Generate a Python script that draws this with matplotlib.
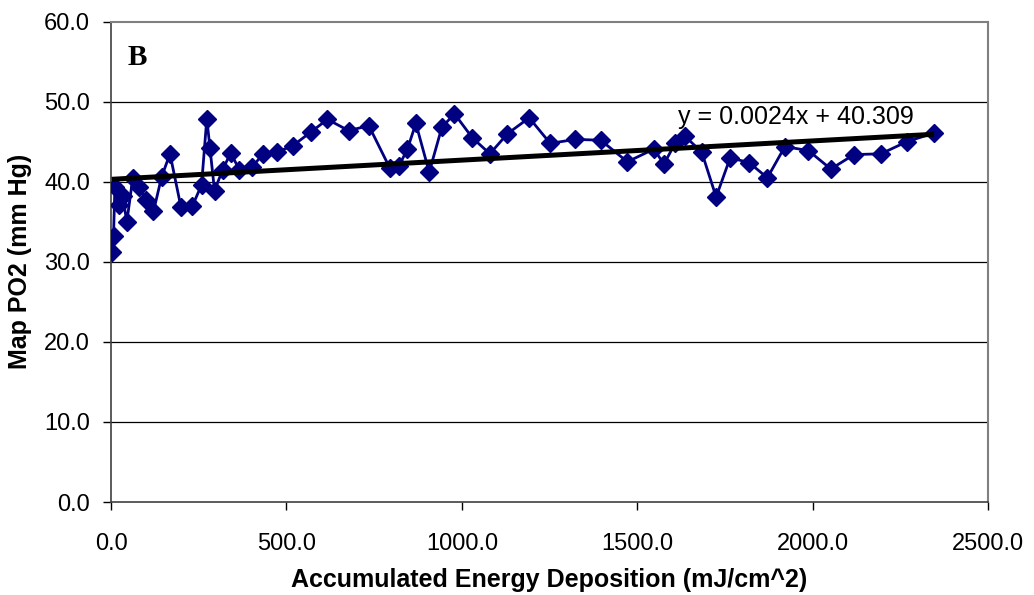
import matplotlib
matplotlib.use("Agg")
import matplotlib.pyplot as plt
import numpy as np

# accumulated energy deposition (mJ/cm^2) and mean PO2 (mm Hg)
energy = [2, 7, 11, 24, 33, 45, 62, 81, 99, 121, 144, 168, 199, 232, 258, 273,
          282, 295, 318, 341, 366, 401, 434, 472, 518, 569, 617, 677, 735, 795,
          821, 845, 869, 907, 943, 979, 1030, 1080, 1130, 1192, 1252, 1323, 1396,
          1472, 1548, 1576, 1608, 1636, 1684, 1725, 1765, 1819, 1871, 1921, 1988,
          2052, 2118, 2195, 2268, 2346]
po2 = [31.2, 33.2, 39.4, 37.1, 38.2, 35.0, 40.5, 39.3, 37.7, 36.3, 40.6, 43.5,
       36.9, 37.0, 39.6, 47.9, 44.2, 38.9, 41.5, 43.6, 41.5, 41.8, 43.5, 43.7,
       44.5, 46.2, 47.8, 46.4, 47.0, 41.7, 42.0, 44.1, 47.3, 41.2, 46.8, 48.5,
       45.5, 43.5, 46.0, 48.0, 44.8, 45.3, 45.2, 42.5, 44.1, 42.2, 44.8, 45.7,
       43.7, 38.1, 43.0, 42.4, 40.5, 44.4, 43.9, 41.6, 43.4, 43.5, 45.0, 46.1]

# linear trend reported on the chart
slope, intercept = 0.0024, 40.309

x_ticks = [0, 500, 1000, 1500, 2000, 2500]
y_ticks = [0, 10, 20, 30, 40, 50, 60]

plt.rcParams['font.family'] = ['Liberation Sans', 'DejaVu Sans']

fig = plt.figure(figsize=(10.34, 5.95), dpi=100)
ax = fig.add_axes([0.1074, 0.1563, 0.8481, 0.8072])

for yv in y_ticks[1:-1]:
    ax.axhline(yv, color="black", lw=0.9, zorder=1)

ax.plot(energy, po2, color="#000080", lw=2.0, marker="D", markersize=9.5,
        markerfacecolor="#000080", markeredgecolor="#000080", zorder=3)

xt = np.array([min(energy), max(energy)])
ax.plot(xt, slope * xt + intercept, color="black", lw=3.6, zorder=4,
        solid_capstyle="butt")

ax.set_xlim(0, 2500)
ax.set_ylim(0, 60)
ax.set_xticks(x_ticks)
ax.set_yticks(y_ticks)
ax.set_xticklabels([f"{v:.1f}" for v in x_ticks], fontsize=17)
ax.set_yticklabels([f"{v:.1f}" for v in y_ticks], fontsize=17)
ax.tick_params(axis="both", direction="out", length=6, width=1, color="black")
ax.tick_params(axis="y", pad=9)
ax.tick_params(axis="x", pad=16)

for side in ["top", "right"]:
    ax.spines[side].set_color("#808080")
    ax.spines[side].set_linewidth(1.5)
for side in ["left", "bottom"]:
    ax.spines[side].set_color("#404040")
    ax.spines[side].set_linewidth(1.2)

ax.set_xlabel("Accumulated Energy Deposition (mJ/cm^2)", fontsize=18,
              fontweight="bold", labelpad=10)
ax.set_ylabel("Map PO2 (mm Hg)", fontsize=18, fontweight="bold", labelpad=9)

ax.text(0.019, 0.925, "B", transform=ax.transAxes, fontsize=21,
        fontweight="bold", family="Liberation Serif", va="center", ha="left")
ax.text(1616, 48.1, f"y = {slope}x + {intercept}", fontsize=18,
        ha="left", va="center")

fig.savefig("out.png", dpi=100)
